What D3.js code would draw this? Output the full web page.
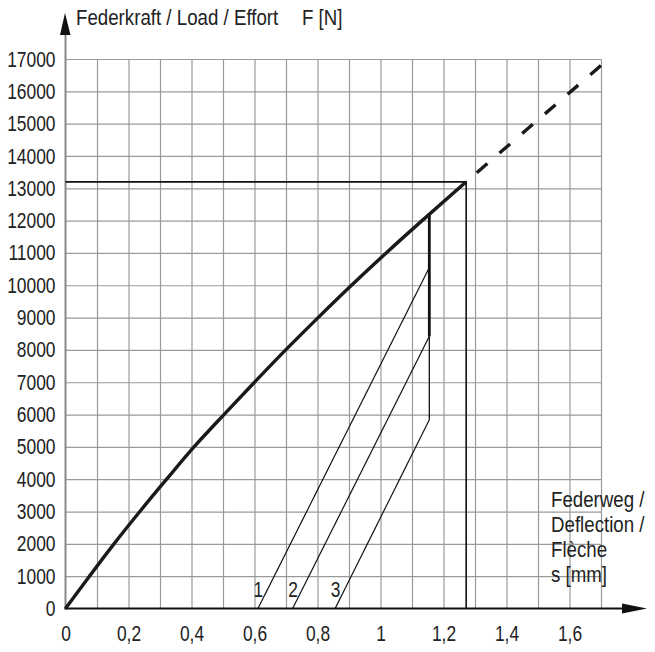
<!DOCTYPE html>
<html><head><meta charset="utf-8">
<script src="https://cdn.jsdelivr.net/npm/d3@7"></script>
<style>
html,body{margin:0;padding:0;background:#fff;}
text{font-family:"Liberation Sans",Arial,sans-serif;fill:#222;}
</style></head>
<body><svg id="c" width="655" height="652"></svg>
<script>
// ---- data ----
const curveS = [0, 0.076, 0.154, 0.236, 0.321, 0.408, 0.503, 0.6, 0.699, 0.802, 0.908, 1.018, 1.132, 1.272];
const curveF = [0, 1000, 2000, 3000, 4000, 5000, 6000, 7000, 8000, 9000, 10000, 11000, 12000, 13200];
const dashS = [1.272, 1.7];
const dashF = [13200, 16800];
const unloadNames = ["1", "2", "3"];
const unloadStartS = [0.611, 0.721, 0.856];
const unloadEndS = [1.155, 1.155, 1.155];
const unloadEndF = [10550, 8420, 5840];
const stopS = 1.155;
const stopThickF = [8420, 12180];
const stopThinF = [5840, 8420];
const maxS = 1.272, maxF = 13200;
const xTicks = [0,0.1,0.2,0.3,0.4,0.5,0.6,0.7,0.8,0.9,1,1.1,1.2,1.3,1.4,1.5,1.6,1.7];
const xTickLabels = {0:"0",0.2:"0,2",0.4:"0,4",0.6:"0,6",0.8:"0,8",1:"1",1.2:"1,2",1.4:"1,4",1.6:"1,6"};
const yTicks = d3.range(0, 17001, 1000);
const yTitle = "Federkraft / Load / Effort";
const yUnit = "F [N]";
const xTitleLines = ["Federweg /", "Deflection /", "Flèche", "s [mm]"];

// ---- scales ----
const x = d3.scaleLinear().domain([0, 1.7]).range([65.5, 601]);
const y = d3.scaleLinear().domain([0, 17000]).range([608.5, 59]);
const svg = d3.select("#c");
const FS = 22, SXN = 0.79, SXT = 0.85;

function addText(px, py, str, anchor, sx) {
  return svg.append("text").attr("transform", `translate(${px},${py}) scale(${sx || SXT},1)`)
    .attr("text-anchor", anchor || "start").attr("font-size", FS).text(str);
}

// grid + tick labels via axes
const gy = svg.append("g").attr("transform", `translate(${x(0)},0)`)
  .call(d3.axisLeft(y).tickValues(yTicks).tickSize(-(x(1.7)-x(0))).tickPadding(10/SXN).tickFormat(d3.format("d")));
gy.select(".domain").remove();
gy.selectAll("line").attr("stroke", "#9a9a9a").attr("stroke-width", 1.2);
gy.selectAll(".tick").filter(d => d === 0).select("line").remove();
gy.selectAll("text").attr("font-size", FS).attr("font-family", null).attr("fill", "#222")
  .attr("transform", `scale(${SXN},1)`);

const gx = svg.append("g").attr("transform", `translate(0,${y(0)})`)
  .call(d3.axisBottom(x).tickValues(xTicks).tickSize(-(y(0)-y(17000))).tickPadding(17)
    .tickFormat(d => xTickLabels[Math.round(d*10)/10] || ""));
gx.select(".domain").remove();
gx.selectAll("line").attr("stroke", "#9a9a9a").attr("stroke-width", 1.2);
gx.selectAll(".tick").filter(d => d === 0).select("line").remove();
gx.selectAll("text").attr("font-size", FS).attr("font-family", null).attr("fill", "#222")
  .attr("transform", `scale(${SXN},1)`);

// axes lines with arrows
svg.append("line").attr("x1", x(0)).attr("x2", x(0)).attr("y1", y(0)+1).attr("y2", 34)
  .attr("stroke", "#8a8a8a").attr("stroke-width", 2);
svg.append("path").attr("d", `M${x(0)-5.5},35 L${x(0)+5},35 L${x(0)-0.5},13 Z`).attr("fill", "#111");
svg.append("line").attr("x1", x(0)-1).attr("x2", 624).attr("y1", y(0)).attr("y2", y(0))
  .attr("stroke", "#111").attr("stroke-width", 2);
svg.append("path").attr("d", `M622,${y(0)-5} L622,${y(0)+5} L647,${y(0)} Z`).attr("fill", "#111");

// max box lines
svg.append("path").attr("d", `M${x(0)},${y(maxF)} H${x(maxS)} V${y(0)}`)
  .attr("fill", "none").attr("stroke", "#111").attr("stroke-width", 1.6);

// unloading lines
unloadNames.forEach((n, i) => {
  svg.append("line").attr("x1", x(unloadStartS[i])).attr("y1", y(0))
    .attr("x2", x(unloadEndS[i])).attr("y2", y(unloadEndF[i]))
    .attr("stroke", "#111").attr("stroke-width", 1.2);
  const slope = unloadEndF[i] / (unloadEndS[i] - unloadStartS[i]);
  const sAt = unloadStartS[i] + 570 / slope;
  addText(x(sAt) - 4, 597, n, "end", SXN);
});
svg.append("line").attr("x1", x(stopS)).attr("x2", x(stopS)).attr("y1", y(stopThinF[0])).attr("y2", y(stopThinF[1]))
  .attr("stroke", "#111").attr("stroke-width", 1.3);
svg.append("line").attr("x1", x(stopS)).attr("x2", x(stopS)).attr("y1", y(stopThickF[0])).attr("y2", y(stopThickF[1]))
  .attr("stroke", "#111").attr("stroke-width", 2.8);

// main curve
const line = d3.line().x(d => x(d[0])).y(d => y(d[1])).curve(d3.curveMonotoneY);
svg.append("path").datum(curveS.map((s, i) => [s, curveF[i]])).attr("d", line)
  .attr("fill", "none").attr("stroke", "#1a1a1a").attr("stroke-width", 3.4).attr("stroke-linejoin", "round");
svg.append("path").datum(dashS.map((s, i) => [s, dashF[i]])).attr("d", d3.line().x(d => x(d[0])).y(d => y(d[1])))
  .attr("fill", "none").attr("stroke", "#1a1a1a").attr("stroke-width", 3.4)
  .attr("stroke-dasharray", "14,16").attr("stroke-dashoffset", 16);

// titles
addText(76, 25, yTitle);
addText(302, 25, yUnit);
xTitleLines.forEach((t, i) => addText(551, 506.5 + i * 25, t));
</script></body></html>
